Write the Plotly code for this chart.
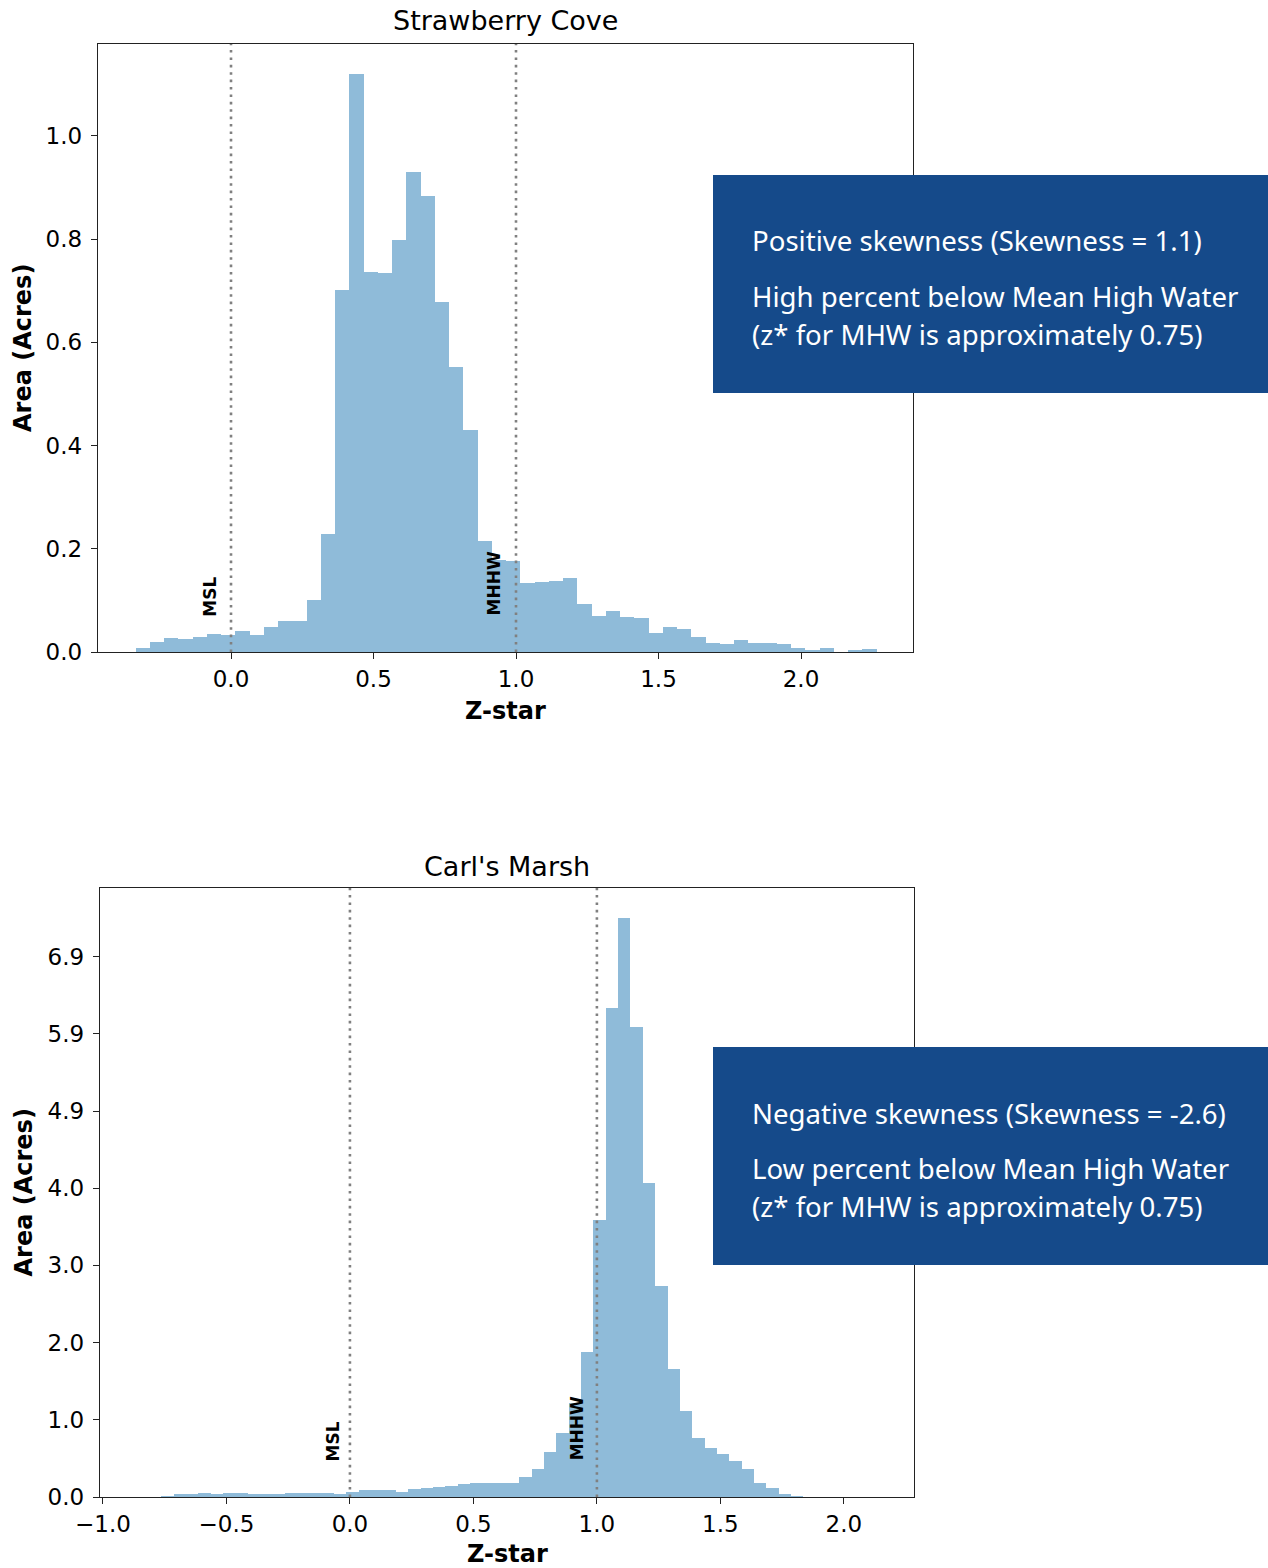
import plotly.graph_objects as go

W, H = 1268, 1568

# ---------------- data ----------------
# Strawberry Cove: histogram of area (acres) by z-star, bins of 0.05 starting at -0.335
sc_bin_start = -0.335
sc_bin_width = 0.05
sc_area = [0.008, 0.020, 0.027, 0.025, 0.030, 0.034, 0.032, 0.040, 0.032, 0.048,
           0.061, 0.060, 0.100, 0.229, 0.701, 1.120, 0.737, 0.735, 0.798, 0.930,
           0.883, 0.678, 0.553, 0.430, 0.216, 0.179, 0.176, 0.133, 0.135, 0.138,
           0.143, 0.093, 0.069, 0.080, 0.067, 0.065, 0.037, 0.048, 0.044, 0.029,
           0.018, 0.016, 0.023, 0.018, 0.018, 0.016, 0.008, 0.004, 0.008, 0.000,
           0.003, 0.006]

# Carl's Marsh: bins of 0.05 starting at -0.764
cm_bin_start = -0.764
cm_bin_width = 0.05
cm_area = [0.017, 0.038, 0.038, 0.056, 0.038, 0.056, 0.056, 0.038, 0.038, 0.038,
           0.056, 0.056, 0.056, 0.056, 0.043, 0.068, 0.085, 0.094, 0.094, 0.068,
           0.098, 0.111, 0.128, 0.141, 0.167, 0.179, 0.179, 0.179, 0.179, 0.260,
           0.360, 0.574, 0.820, 1.210, 1.855, 3.550, 6.260, 7.420, 6.020, 4.020,
           2.700, 1.640, 1.100, 0.760, 0.625, 0.550, 0.460, 0.356, 0.183, 0.117,
           0.041, 0.015]

sc_xticks = [0.0, 0.5, 1.0, 1.5, 2.0]
sc_xtick_text = ["0.0", "0.5", "1.0", "1.5", "2.0"]
sc_yticks = [0.0, 0.2, 0.4, 0.6, 0.8, 1.0]
sc_ytick_text = ["0.0", "0.2", "0.4", "0.6", "0.8", "1.0"]

cm_xticks = [-1.0, -0.5, 0.0, 0.5, 1.0, 1.5, 2.0]
cm_xtick_text = ["\u22121.0", "\u22120.5", "0.0", "0.5", "1.0", "1.5", "2.0"]
cm_yticks = [0.0, 0.989, 1.977, 2.966, 3.954, 4.943, 5.932, 6.920]
cm_ytick_text = ["0.0", "1.0", "2.0", "3.0", "4.0", "4.9", "5.9", "6.9"]

ref_lines = [0.0, 1.0]
ref_labels = ["MSL", "MHHW"]

titles = ["Strawberry Cove", "Carl's Marsh"]
box_lines = [
    ["Positive skewness (Skewness = 1.1)",
     "High percent below Mean High Water",
     "(z* for MHW is approximately 0.75)"],
    ["Negative skewness (Skewness = -2.6)",
     "Low percent below Mean High Water",
     "(z* for MHW is approximately 0.75)"],
]

# ---------------- layout helpers ----------------
def px_x(p):
    return p / W

def px_y(p):
    return 1 - p / H

BAR_COLOR = "rgba(31,119,180,0.5)"
BOX_COLOR = "#154A8A"
TICK_FONT = dict(family="DejaVu Sans", size=23, color="black")

fig = go.Figure()

def centers(start, width, n):
    return [start + width * (i + 0.5) for i in range(n)]

fig.add_trace(go.Bar(
    x=centers(sc_bin_start, sc_bin_width, len(sc_area)), y=sc_area,
    width=sc_bin_width, marker=dict(color=BAR_COLOR, line=dict(width=0)),
    xaxis="x", yaxis="y", showlegend=False, hoverinfo="x+y"))
fig.add_trace(go.Bar(
    x=centers(cm_bin_start, cm_bin_width, len(cm_area)), y=cm_area,
    width=cm_bin_width, marker=dict(color=BAR_COLOR, line=dict(width=0)),
    xaxis="x2", yaxis="y2", showlegend=False, hoverinfo="x+y"))

axis_common = dict(showline=True, linecolor="#222222", linewidth=1.4, mirror=True,
                   ticks="outside", ticklen=6, tickwidth=1.4, tickcolor="#222222",
                   showgrid=False, zeroline=False, tickfont=TICK_FONT,
                   automargin=False)

# panel geometry (pixels)
panels = [
    dict(x0=98, x1=913, ytop=44, ybot=652, xr=[-0.4667, 2.393], yr=[0, 1.178],
         xt=sc_xticks, xtt=sc_xtick_text, yt=sc_yticks, ytt=sc_ytick_text),
    dict(x0=100, x1=914, ytop=888, ybot=1497, xr=[-1.012, 2.284], yr=[0, 7.80],
         xt=cm_xticks, xtt=cm_xtick_text, yt=cm_yticks, ytt=cm_ytick_text),
]

for i, p in enumerate(panels):
    sfx = "" if i == 0 else "2"
    fig.update_layout(**{
        "xaxis" + sfx: dict(domain=[px_x(p["x0"]), px_x(p["x1"])], range=p["xr"],
                            anchor="y" + sfx, tickvals=p["xt"], ticktext=p["xtt"],
                            ticklabelstandoff=0, **axis_common),
        "yaxis" + sfx: dict(domain=[px_y(p["ybot"]), px_y(p["ytop"])], range=p["yr"],
                            anchor="x" + sfx, tickvals=p["yt"], ticktext=p["ytt"],
                            ticklabelstandoff=4, **axis_common),
    })

shapes = []
annotations = []

# reference lines and labels
label_pos = [
    [(-0.074, 0.107), (0.923, 0.133)],
    [(-0.069, 0.71), (0.923, 0.878)],
]
for i in range(2):
    sfx = "" if i == 0 else "2"
    for j, xv in enumerate(ref_lines):
        shapes.append(dict(type="line", xref="x" + sfx, yref="y" + sfx + " domain",
                           x0=xv, x1=xv, y0=0, y1=1, layer="above",
                           line=dict(color="#808080", width=2.6, dash="2.6px,4.8px")))
        lx, ly = label_pos[i][j]
        annotations.append(dict(text="<b>%s</b>" % ref_labels[j], x=lx, y=ly,
                                xref="x" + sfx, yref="y" + sfx, textangle=-90,
                                showarrow=False, xanchor="center", yanchor="middle",
                                font=dict(family="DejaVu Sans", size=17, color="black")))

# titles and axis labels
title_y = [21, 866]
zstar_y = [711, 1554]
for i, p in enumerate(panels):
    cx = (p["x0"] + p["x1"]) / 2
    annotations.append(dict(text=titles[i], x=px_x(cx), y=px_y(title_y[i]),
                            xref="paper", yref="paper", showarrow=False,
                            xanchor="center", yanchor="middle",
                            font=dict(family="DejaVu Sans", size=27, color="black")))
    annotations.append(dict(text="<b>Z-star</b>", x=px_x(cx), y=px_y(zstar_y[i]),
                            xref="paper", yref="paper", showarrow=False,
                            xanchor="center", yanchor="middle",
                            font=dict(family="DejaVu Sans", size=24, color="black")))
    annotations.append(dict(text="<b>Area (Acres)</b>", x=px_x(23),
                            y=px_y((p["ytop"] + p["ybot"]) / 2),
                            xref="paper", yref="paper", showarrow=False, textangle=-90,
                            xanchor="center", yanchor="middle",
                            font=dict(family="DejaVu Sans", size=24, color="black")))

# blue annotation boxes
box_tops = [175, 1047]
box_h = 218
line_offsets = [65.5, 121, 158.8]
for i in range(2):
    shapes.append(dict(type="rect", xref="paper", yref="paper", layer="above",
                       x0=px_x(713), x1=1.0, y0=px_y(box_tops[i] + box_h),
                       y1=px_y(box_tops[i]), fillcolor=BOX_COLOR, line=dict(width=0)))
    for k, txt in enumerate(box_lines[i]):
        annotations.append(dict(text=txt, x=px_x(750), y=px_y(box_tops[i] + line_offsets[k]),
                                xref="paper", yref="paper", showarrow=False,
                                xanchor="left", yanchor="middle",
                                font=dict(family="Noto Sans", size=27.6, color="white")))

fig.update_layout(width=W, height=H, margin=dict(l=0, r=0, t=0, b=0),
                  paper_bgcolor="white", plot_bgcolor="white", bargap=0,
                  shapes=shapes, annotations=annotations, showlegend=False)

fig.write_html("out.html", config={"displayModeBar": False},
               post_script="document.body.style.margin='0';document.body.style.overflow='hidden';")
